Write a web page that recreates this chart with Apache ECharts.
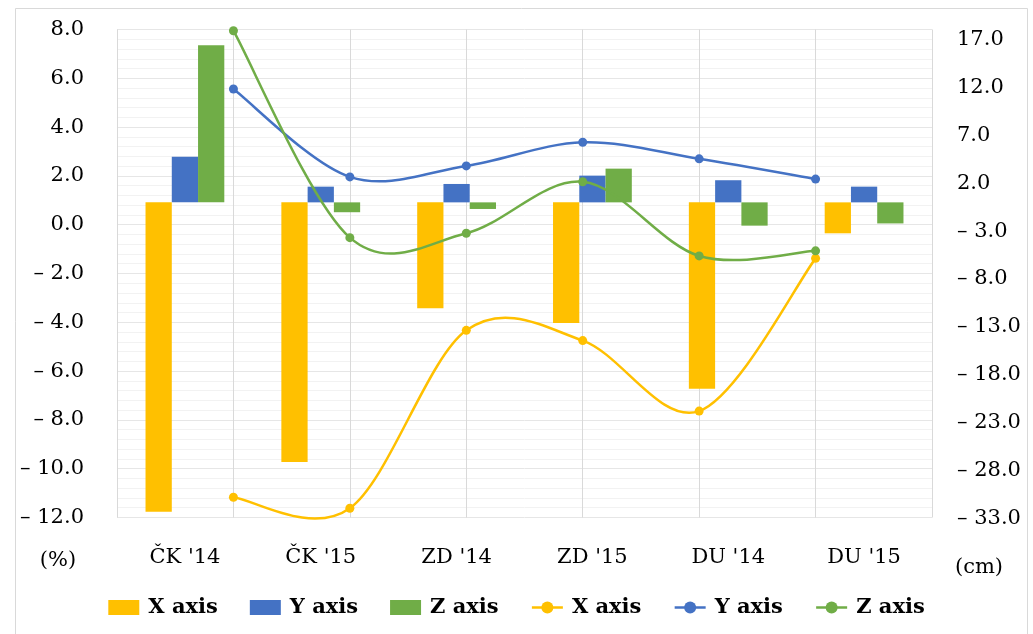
<!DOCTYPE html>
<html><head><meta charset="utf-8">
<script src="https://cdn.jsdelivr.net/npm/echarts@6/dist/echarts.min.js"></script>
<style>html,body{margin:0;padding:0;background:#fff}#c{width:1033px;height:634px}</style>
</head><body><div id="c"></div>
<script>
// ---- data ----
const categories = ["ČK '14", "ČK '15", "ZD '14", "ZD '15", "DU '14", "DU '15"];
const seriesNames = ['X axis', 'Y axis', 'Z axis'];
// bars (cm, right axis)
const barX = [-32.3, -27.1, -11.05, -12.6, -19.45, -3.23];
const barY = [4.77, 1.64, 1.92, 2.79, 2.31, 1.64];
const barZ = [16.4, -1.03, -0.69, 3.52, -2.43, -2.2];
// lines (%, left axis)
const lineX = [-11.17, -11.62, -4.33, -4.75, -7.64, -1.38];
const lineY = [5.56, 1.96, 2.41, 3.38, 2.70, 1.87];
const lineZ = [7.95, -0.53, -0.35, 1.76, -1.28, -1.07];
// tick labels
const leftMin = -12, leftMax = 8, leftStep = 2;
const rightTicks = [-33, -28, -23, -18, -13, -8, -3, 2, 7, 12, 17];
const colors = ['#FFC000', '#4472C4', '#70AD47'];

const FONT = '"DejaVu Serif", serif';
const fmt = v => { v = Number(v); return v < 0 ? '\u2013 ' + Math.abs(v).toFixed(1) : v.toFixed(1); };
const lineNames = seriesNames.map(n => n + ' ');

const chart = echarts.init(document.getElementById('c'), null, {renderer: 'canvas'});
const barData = [barX, barY, barZ];
const lineData = [lineX, lineY, lineZ];

// Excel-like smoothed curve (cardinal spline through the points, drawn via the axis scales)
function makeCurve(values, color) {
  return function (params, api) {
    const i = params.dataIndex;
    if (i >= values.length - 1) return null;
    const P = k => { k = Math.max(0, Math.min(values.length - 1, k)); return api.coord([k + 1, values[k]]); };
    const p0 = P(i - 1), p1 = P(i), p2 = P(i + 1), p3 = P(i + 2);
    const t = 1 / 6;
    return {
      type: 'bezierCurve',
      shape: {
        x1: p1[0], y1: p1[1], x2: p2[0], y2: p2[1],
        cpx1: p1[0] + (p2[0] - p0[0]) * t, cpy1: p1[1] + (p2[1] - p0[1]) * t,
        cpx2: p2[0] - (p3[0] - p1[0]) * t, cpy2: p2[1] - (p3[1] - p1[1]) * t
      },
      style: {stroke: color, lineWidth: 2.5, fill: 'none'}
    };
  };
}

const option = {
  animation: false,
  backgroundColor: '#fff',
  grid: [
    {left: 117, right: 101, top: 29.5, height: 488},
    {left: 117, right: 101, top: 39.5, height: 479}
  ],
  xAxis: [
    {gridIndex: 0, type: 'category', data: [''].concat(categories, ['']), boundaryGap: false,
     axisLine: {show: false}, axisTick: {show: false}, axisLabel: {show: false},
     splitLine: {show: true, interval: 0, lineStyle: {color: '#d9d9d9', width: 1}}},
    {gridIndex: 1, type: 'category', data: categories,
     axisLine: {show: false}, axisTick: {show: false}, splitLine: {show: false},
     axisLabel: {fontFamily: FONT, fontSize: 21, color: '#000', margin: 29, interval: 0}}
  ],
  yAxis: [
    {gridIndex: 0, type: 'value', min: leftMin, max: leftMax, interval: leftStep,
     axisLine: {show: false}, axisTick: {show: false},
     axisLabel: {formatter: fmt, fontFamily: FONT, fontSize: 21, color: '#000', margin: 33},
     splitLine: {show: true, lineStyle: {color: '#e6e6e6'}},
     minorTick: {show: false, splitNumber: 5},
     minorSplitLine: {show: true, lineStyle: {color: '#f2f2f2'}}},
    {gridIndex: 1, type: 'value', min: rightTicks[0], max: rightTicks[rightTicks.length - 1], show: false},
    {gridIndex: 1, type: 'category', data: rightTicks, boundaryGap: false, position: 'right',
     axisLine: {show: false}, axisTick: {show: false}, splitLine: {show: false},
     axisLabel: {formatter: fmt, fontFamily: FONT, fontSize: 21, color: '#000', margin: 25, interval: 0, align: 'left'}}
  ],
  legend: {
    left: 'center', top: 592, itemGap: 32, itemWidth: 31, itemHeight: 15,
    textStyle: {fontFamily: FONT, fontWeight: 'bold', fontSize: 21, color: '#000', padding: [0, 0, 0, 4]},
    formatter: n => n.trim(),
    data: seriesNames.map(n => ({name: n, icon: 'rect'})).concat(lineNames.map((n, i) => ({
      name: n, lineStyle: {color: colors[i], width: 2.5, opacity: 1}, itemStyle: {color: colors[i]}
    })))
  },
  graphic: [
    {type: 'rect', silent: true, z: -10, shape: {x: 15.5, y: 8.5, width: 1012, height: 640},
     style: {fill: 'none', stroke: '#d9d9d9', lineWidth: 1}},
    {type: 'text', x: 58, y: 561, style: {text: '(%)', fontFamily: FONT, fontSize: 21, fill: '#000', align: 'center', verticalAlign: 'middle'}},
    {type: 'text', x: 979, y: 568, style: {text: '(cm)', fontFamily: FONT, fontSize: 21, fill: '#000', align: 'center', verticalAlign: 'middle'}}
  ],
  series: seriesNames.map((n, i) => ({
    name: n, type: 'bar', xAxisIndex: 1, yAxisIndex: 1, data: barData[i],
    barGap: '0%', barCategoryGap: '42%', itemStyle: {color: colors[i]}
  })).concat(lineNames.map((n, i) => ({
    name: n, type: 'line', xAxisIndex: 0, yAxisIndex: 0, data: [null].concat(lineData[i], [null]),
    symbol: 'circle', symbolSize: 9, z: 5,
    itemStyle: {color: colors[i]}, lineStyle: {color: colors[i], width: 2.5, opacity: 0}
  }))).concat(lineNames.map((n, i) => ({
    name: n + 'curve', type: 'custom', xAxisIndex: 0, yAxisIndex: 0, z: 4, silent: true,
    data: lineData[i].map((v, k) => [categories[k], v]),
    renderItem: makeCurve(lineData[i], colors[i])
  })))
};
chart.setOption(option);
</script></body></html>
